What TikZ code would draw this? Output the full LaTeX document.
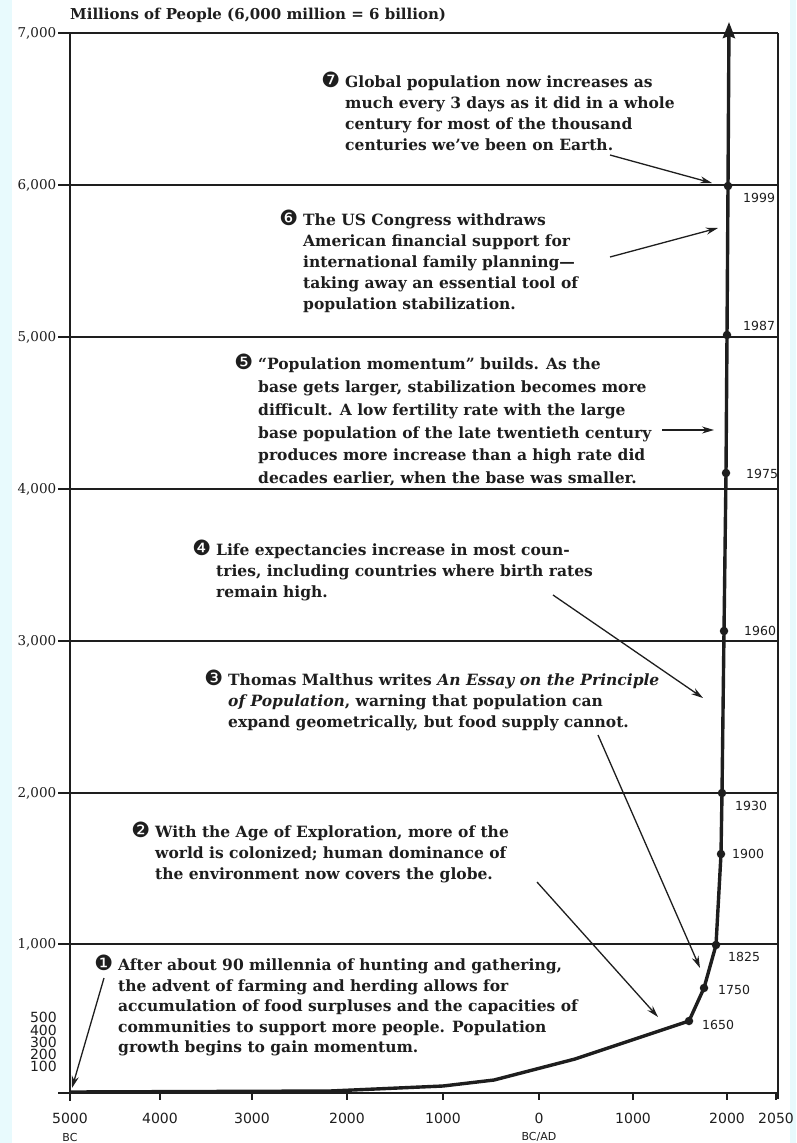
\documentclass[tikz,border=0pt]{standalone}
\usepackage{fontspec}
\setmainfont{DejaVu Serif}
\newfontfamily\dingfont{DejaVu Sans}
\newfontfamily\yearfont{DejaVu Sans}
\usetikzlibrary{arrows.meta}

\definecolor{scanedge}{RGB}{232,250,253}
\definecolor{ink}{RGB}{30,30,30}

% hanging black numbered bullet
\newcommand{\bul}[1]{\llap{{\dingfont\mdseries\fontsize{21}{21}\selectfont #1}\hspace{5pt}}}

\begin{document}
\begin{tikzpicture}[x=1pt,y=-1pt,
  note/.style={anchor=north west,inner sep=0pt,align=left,text=ink,
    font=\bfseries\fontsize{15.5}{21}\selectfont},
  pointer/.style={draw=ink,line width=1.3pt,-{Stealth[length=12pt,width=7pt]}},
  grid/.style={draw=ink,line width=1.5pt},
  axis/.style={draw=ink,line width=2.2pt},
  curve/.style={draw=ink,line width=3.4pt,line join=round,-{Stealth[length=16pt,width=12pt,inset=2pt]}},
  dot/.style={circle,fill=ink,inner sep=0pt,minimum size=8.5pt},
  yr/.style={anchor=west,inner sep=0pt,text=ink,font=\yearfont\fontsize{12.5}{13}\selectfont},
  ylab/.style={anchor=east,inner sep=1pt,text=ink,font=\fontsize{13.5}{14}\selectfont},
  slab/.style={anchor=east,inner sep=0pt,text=ink,font=\yearfont\fontsize{14}{13}\selectfont},
  xlab/.style={inner sep=0pt,text=ink,font=\yearfont\fontsize{14}{14}\selectfont},
  bclab/.style={inner sep=0pt,text=ink,font=\yearfont\fontsize{11}{11}\selectfont}]
\useasboundingbox (0,0) rectangle (796,1143);
\fill[scanedge] (0,0) rectangle (796,1143);
\fill[white] (12,0) rectangle (790,1143);

% frame, grid and axes
\foreach \v/\y in {7/33,6/185,5/337,4/489,3/641,2/793,1/944}
  \draw[grid] (58,\y) -- (778,\y) node[pos=0,ylab] (ylab\v) {\v,000};
\draw[axis] (70,33) -- (70,1101);
\draw[grid] (778,33) -- (778,1099);
\draw[axis] (58,1093) -- (778,1093);
\foreach \x/\t in {70/5000,160/4000,252/3000,347/2000,443/1000,539/0,633/1000,727/2000,776/2050}
  \draw[axis] (\x,1093) -- (\x,1100) (\x,1118) node[xlab] (xl\x) {\t};
\path (70,1137) node[bclab] (bc) {BC};
\path (539,1137) node[bclab] (bcad) {BC/AD};
\foreach \v/\y in {500/1017,400/1030,300/1042,200/1054,100/1066}
  \path (57,\y) node[slab] (sl\v) {\v};

\path (70,15) node[anchor=west,inner sep=0pt,text=ink,font=\bfseries\fontsize{15}{16}\selectfont] (title)
  {Millions of People (6,000 million = 6 billion)};

% population curve
\path (689,1021) node[dot] (d1650) {};
\path (704,988) node[dot] (d1750) {};
\path (716,945) node[dot] (d1825) {};
\path (721,854) node[dot] (d1900) {};
\path (722,793) node[dot] (d1930) {};
\path (724,631) node[dot] (d1960) {};
\path (726,473) node[dot] (d1975) {};
\path (727,335) node[dot] (d1987) {};
\path (728,186) node[dot] (d1999) {};
\coordinate (top) at (729,22);
\draw[curve] (70,1092) -- (330,1091) -- (443,1086) -- (494,1080) -- (575,1059)
  -- (d1650.center) -- (d1750.center) -- (d1825.center) -- (d1900.center)
  -- (d1930.center) -- (d1960.center) -- (d1975.center) -- (d1987.center)
  -- (d1999.center) -- (top);

\path (743,198) node[yr] (l1999) {1999};
\path (743,326) node[yr] (l1987) {1987};
\path (746,474) node[yr] (l1975) {1975};
\path (744,631) node[yr] (l1960) {1960};
\path (735,806) node[yr] (l1930) {1930};
\path (732,854) node[yr] (l1900) {1900};
\path (728,957) node[yr] (l1825) {1825};
\path (718,990) node[yr] (l1750) {1750};
\path (702,1025) node[yr] (l1650) {1650};

% notes
\path (345,72) node[note] (n7) {\bul{❼}Global population now increases as\\
  much every 3 days as it did in a whole\\
  century for most of the thousand\\
  centuries we’ve been on Earth.};
\path (303,210) node[note] (n6) {\bul{❻}The US Congress withdraws\\
  American financial support for\\
  international family planning—\\
  taking away an essential tool of\\
  population stabilization.};
\path (258,354) node[note,font=\bfseries\fontsize{15.5}{22.8}\selectfont] (n5) {\bul{❺}“Population momentum” builds. As the\\
  base gets larger, stabilization becomes more\\
  difficult. A low fertility rate with the large\\
  base population of the late twentieth century\\
  produces more increase than a high rate did\\
  decades earlier, when the base was smaller.};
\path (216,540) node[note] (n4) {\bul{❹}Life expectancies increase in most coun-\\
  tries, including countries where birth rates\\
  remain high.};
\path (228,670) node[note] (n3) {\bul{❸}Thomas Malthus writes \textit{An Essay on the Principle}\\
  \textit{of Population}, warning that population can\\
  expand geometrically, but food supply cannot.};
\path (155,822) node[note] (n2) {\bul{❷}With the Age of Exploration, more of the\\
  world is colonized; human dominance of\\
  the environment now covers the globe.};
\path (118,955) node[note,font=\bfseries\fontsize{15.5}{20.5}\selectfont] (n1) {\bul{❶}After about 90 millennia of hunting and gathering,\\
  the advent of farming and herding allows for\\
  accumulation of food surpluses and the capacities of\\
  communities to support more people. Population\\
  growth begins to gain momentum.};

% pointers
\coordinate (p7) at (610,155); \coordinate (q7) at (712,183);
\coordinate (p6) at (610,257); \coordinate (q6) at (718,228);
\coordinate (p5) at (662,430); \coordinate (q5) at (714,430);
\coordinate (p4) at (553,595); \coordinate (q4) at (703,698);
\coordinate (p3) at (598,735); \coordinate (q3) at (700,968);
\coordinate (p2) at (537,882); \coordinate (q2) at (658,1017);
\coordinate (p1) at (104,978); \coordinate (q1) at (72,1088);
\draw[pointer] (p7) -- (q7);
\draw[pointer] (p6) -- (q6);
\draw[pointer] (p5) -- (q5);
\draw[pointer] (p4) -- (q4);
\draw[pointer] (p3) -- (q3);
\draw[pointer] (p2) -- (q2);
\draw[pointer] (p1) -- (q1);
\end{tikzpicture}
\end{document}
